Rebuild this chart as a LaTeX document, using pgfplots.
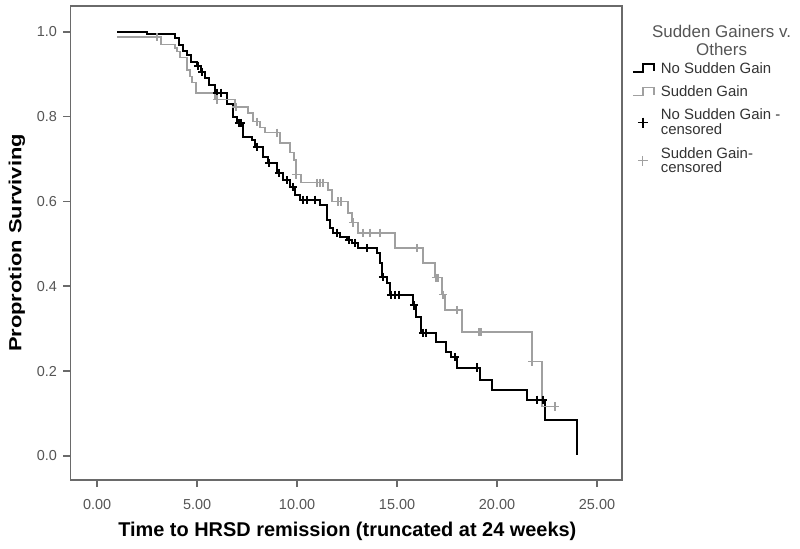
\documentclass[border=0pt]{standalone}
\usepackage{pgfplots}
\pgfplotsset{compat=1.18}
\usepackage{graphicx}
\usepackage{fontspec}
\setmainfont{Liberation Sans}
\definecolor{axgray}{HTML}{6A6A6A}
\definecolor{sgray}{HTML}{A0A0A0}
\definecolor{txtgray}{HTML}{555555}
\definecolor{legtxt}{HTML}{333333}
\pgfplotsset{
 steplegend/.style={legend image code/.code={\draw[##1] (0bp,-4bp) -- (10bp,-4bp) -- (10bp,4.5bp) -- (21bp,4.5bp) -- (21bp,-3bp);}},
 pluslegend/.style={legend image code/.code={\draw[##1, mark size=5bp] plot coordinates {(10bp,0bp)};}},
}
\begin{document}
\begin{tikzpicture}
\begin{axis}[
 scale only axis, width=551.5bp, height=474bp,
 xmin=-1.33, xmax=26.25, ymin=-0.057, ymax=1.061,
 axis line style={axgray, line width=1.2bp},
 xtick={0,5,10,15,20,25}, ytick={0,0.2,0.4,0.6,0.8,1.0},
 xtick pos=bottom, ytick pos=left, tick align=outside,
 major tick length=7bp,
 tick style={axgray, line width=1.5bp},
 x tick label style={/pgf/number format/fixed, /pgf/number format/fixed zerofill, /pgf/number format/precision=2, yshift=-8.5bp},
 y tick label style={/pgf/number format/fixed, /pgf/number format/fixed zerofill, /pgf/number format/precision=1, xshift=-3bp},
 /pgf/number format/assume math mode=true,
 ticklabel style={font=\fontsize{14.5}{17}\selectfont, txtgray},
 xlabel={Time to HRSD remission (truncated at 24 weeks)},
 ylabel={\scalebox{1}[0.8]{Proprotion Surviving}},
 x label style={font=\fontsize{20}{24}\selectfont\bfseries, at={(axis description cs:0.502,0)}, anchor=base, yshift=-56bp},
 y label style={font=\fontsize{22}{26}\selectfont\bfseries, at={(axis description cs:0,0.5)}, anchor=center, yshift=53.5bp},
 clip=false,
 legend style={at={(1.012,0.89)}, anchor=north west, draw=none, fill=none,
   font=\fontsize{15}{15}\selectfont, text=legtxt, cells={anchor=west, align=left}, row sep=7bp,
   /tikz/every odd column/.append style={column sep=4bp}},
]
\addplot[const plot, black, line width=2bp, steplegend]
 coordinates {
 (1.0,1.0) (2.5,0.995) (3.9,0.985) (4.1,0.97) (4.3,0.955) (4.5,0.945) (4.7,0.93)
 (5.0,0.92) (5.2,0.905) (5.4,0.89) (5.6,0.875) (5.9,0.856) (6.5,0.83) (6.8,0.80)
 (7.0,0.785) (7.3,0.752) (7.75,0.745) (7.9,0.729) (8.3,0.705) (8.55,0.69) (9.0,0.667)
 (9.3,0.65) (9.65,0.634) (9.9,0.616) (10.15,0.604) (11.15,0.592) (11.5,0.557)
 (11.65,0.538) (11.8,0.526) (12.15,0.517) (12.5,0.509) (12.75,0.502) (13.05,0.49)
 (14.0,0.479) (14.15,0.455) (14.25,0.422) (14.5,0.408) (14.65,0.38) (15.8,0.355)
 (15.95,0.328) (16.2,0.29) (16.95,0.269) (17.45,0.245) (17.7,0.233) (18.0,0.208)
 (19.15,0.179) (19.75,0.156) (21.5,0.132) (22.4,0.085) (24.0,0.003)
 };
\addlegendentry{No Sudden Gain}
\addplot[const plot, sgray, line width=1.4bp, steplegend]
 coordinates {
 (1.0,0.988) (3.2,0.970) (3.9,0.962) (4.0,0.953) (4.15,0.94) (4.5,0.91) (4.65,0.894)
 (4.75,0.88) (4.95,0.856) (5.9,0.84) (6.9,0.823) (7.55,0.809) (7.8,0.788) (8.15,0.774)
 (8.4,0.762) (9.15,0.738) (9.65,0.715) (9.85,0.698) (9.95,0.663) (10.2,0.644)
 (11.55,0.627) (11.75,0.60) (12.55,0.573) (12.75,0.55) (13.05,0.526) (14.9,0.49)
 (16.3,0.455) (16.9,0.42) (17.25,0.38) (17.4,0.344) (18.25,0.292) (21.75,0.222)
 (22.25,0.116) (23.05,0.116)
 };
\addlegendentry{Sudden Gain}
\addplot[only marks, mark=+, black, mark size=4.2bp, line width=1.7bp, pluslegend]
 coordinates {
 (5.05,0.92) (5.25,0.905) (6.0,0.856) (6.2,0.856) (7.1,0.785) (7.2,0.785) (8.0,0.729)
 (8.6,0.69) (9.1,0.667) (9.5,0.65) (9.8,0.634) (10.3,0.604) (10.5,0.604) (10.9,0.604)
 (12.0,0.526) (12.6,0.509) (12.9,0.502) (13.5,0.49) (14.3,0.422) (14.7,0.38) (14.9,0.38)
 (15.1,0.38) (15.85,0.355) (16.3,0.29) (16.45,0.29) (17.9,0.233) (19.0,0.208)
 (22.0,0.132) (22.3,0.132)
 };
\addlegendentry{No Sudden Gain -\\censored}
\addplot[only marks, mark=+, sgray, mark size=4.2bp, line width=1.3bp, pluslegend]
 coordinates {
 (3.0,0.988) (6.0,0.84) (6.95,0.823) (8.0,0.788) (9.0,0.762) (9.95,0.663) (11.0,0.644)
 (11.15,0.644) (11.3,0.644) (12.05,0.60) (12.2,0.60) (12.8,0.55) (13.3,0.526)
 (13.65,0.526) (14.15,0.526) (16.0,0.49) (16.95,0.42) (17.05,0.42) (17.3,0.38)
 (18.0,0.344) (19.1,0.292) (19.2,0.292) (21.75,0.222) (22.9,0.116)
 };
\addlegendentry{Sudden Gain-\\censored}
\node[align=center, font=\fontsize{17}{18}\selectfont, text=txtgray] at (rel axis cs:1.1806,0.9272) {Sudden Gainers v.\\Others};
\end{axis}
\pgfresetboundingbox
\useasboundingbox (-70.5bp,-69bp) rectangle (729.5bp,480bp);
\end{tikzpicture}
\end{document}
